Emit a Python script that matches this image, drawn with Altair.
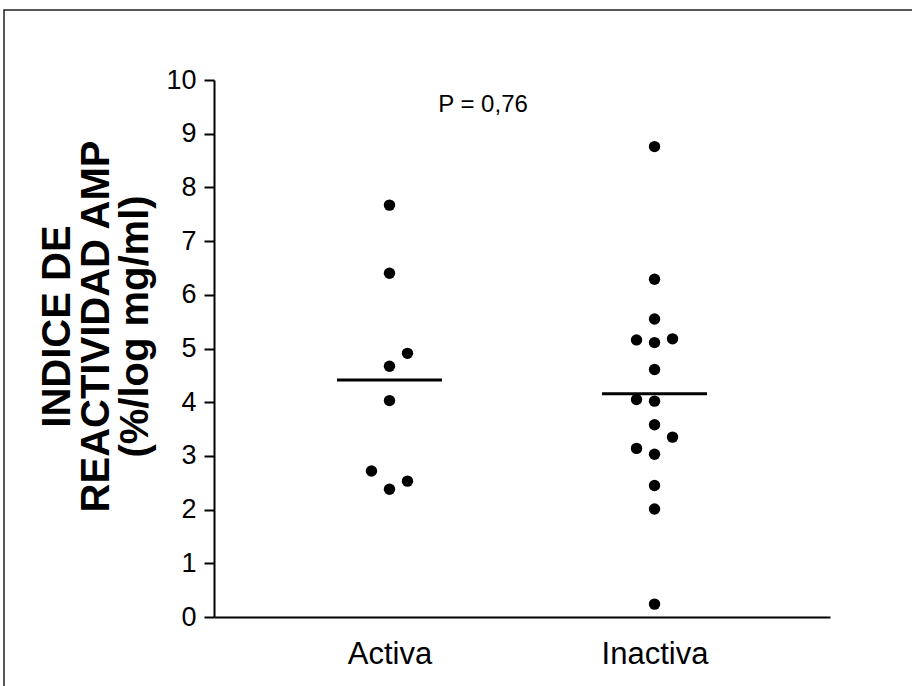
import altair as alt
import pandas as pd

groups = ["Activa", "Inactiva"]
activa = [7.67, 6.40, 4.91, 4.67, 4.03, 2.72, 2.53, 2.38]
activa_slot = [0, 0, 1, 0, 0, -1, 1, 0]
inactiva = [8.76, 6.29, 5.55, 5.16, 5.11, 5.18, 4.61, 4.05, 4.02, 3.58, 3.35, 3.14, 3.03, 2.45, 2.01, 0.24]
inactiva_slot = [0, 0, 0, -1, 0, 1, 0, -1, 0, 0, 1, -1, 0, 0, 0, 0]
y_ticks = list(range(0, 11))
p_text = ["P = 0,76"]
p_y = [9.53]
y_title = ["INDICE DE", "REACTIVIDAD AMP", "(%/log mg/ml)"]

df = pd.DataFrame({
    "grupo": ["Activa"] * len(activa) + ["Inactiva"] * len(inactiva),
    "valor": activa + inactiva,
    "slot": activa_slot + inactiva_slot,
})
df_p = pd.DataFrame({"t": p_text, "y": p_y})
df_frame = pd.DataFrame({"a": [0]})

FONT = "Liberation Sans, Arial, sans-serif"

x_enc = alt.X(
    "grupo:N",
    scale=alt.Scale(type="point", domain=groups, padding=0.662),
    axis=alt.Axis(
        title=None, ticks=False, labelAngle=0, labelFont=FONT, labelFontSize=31,
        labelColor="black", labelPadding=22, domainColor="black", domainWidth=2,
    ),
)
y_scale = alt.Scale(domain=[0, 10], nice=False, zero=True)
y_enc = alt.Y(
    "valor:Q",
    scale=y_scale,
    axis=alt.Axis(
        values=y_ticks, grid=False, domainColor="black", domainWidth=2,
        tickColor="black", tickWidth=2, tickSize=10,
        labelFont=FONT, labelFontSize=27, labelColor="black", labelPadding=8,
        title=y_title, titleFont=FONT, titleFontSize=40,
        titleFontWeight="bold", titleColor="black", titleAngle=270,
        titleX=-157, titleY=246, titleAlign="center", titleBaseline="middle",
        titleLineHeight=39,
    ),
)

points = alt.Chart(df).mark_circle(size=130, color="black", opacity=1).encode(
    x=x_enc,
    xOffset=alt.XOffset("slot:Q", scale=alt.Scale(domain=[-1, 1], range=[-18, 18])),
    y=y_enc,
)

means = alt.Chart(df).mark_tick(size=105, thickness=3, color="black").encode(
    x=x_enc,
    y=alt.Y("mean(valor):Q", scale=y_scale),
)

ptext = alt.Chart(df_p).mark_text(
    font=FONT, fontSize=24, color="black", align="center", baseline="middle"
).encode(
    x=alt.value(269),
    y=alt.Y("y:Q", scale=y_scale),
    text="t:N",
)

frame = alt.Chart(df_frame).mark_rect(
    fillOpacity=0, stroke="#222222", strokeWidth=1.5
).encode(
    x=alt.value(-210), x2=alt.value(760), y=alt.value(-70), y2=alt.value(700)
)

chart = alt.layer(frame, means, points, ptext).properties(
    width=616, height=537,
    autosize=alt.AutoSizeParams(type="none"),
    padding={"left": 214, "top": 80, "right": 82, "bottom": 69},
    background="white",
).configure_view(strokeWidth=0)

chart.save("out.html", embed_options={"renderer": "svg", "actions": False})
